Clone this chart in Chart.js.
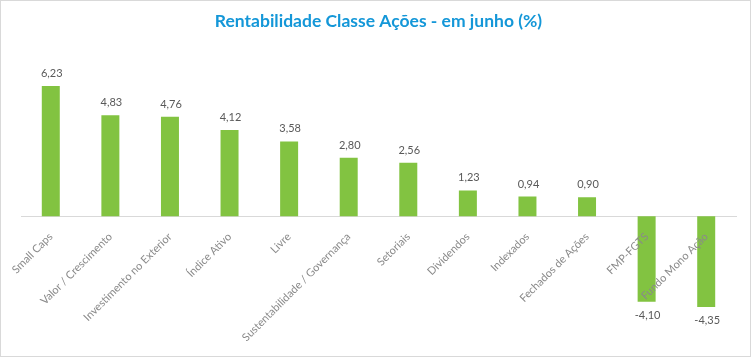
<!DOCTYPE html>
<html>
<head>
<meta charset="utf-8">
<script src="https://cdn.jsdelivr.net/npm/chart.js@4.4.1/dist/chart.umd.min.js"></script>
<style>
  html, body { margin: 0; padding: 0; background: #fff; }
  #wrap { width: 749px; height: 355px; border: 1px solid #d9d9d9; position: relative; }
  canvas { display: block; }
</style>
</head>
<body>
<div id="wrap"><canvas id="c" width="749" height="355"></canvas></div>
<script>
const titleText = 'Rentabilidade Classe Ações - em junho (%)';
const categories = ['Small Caps', 'Valor / Crescimento', 'Investimento no Exterior', 'Índice Ativo', 'Livre',
  'Sustentabilidade / Governança', 'Setoriais', 'Dividendos', 'Indexados', 'Fechados de Ações', 'FMP-FGTS', 'Fundo Mono Ação'];
const values = [6.23, 4.83, 4.76, 4.12, 3.58, 2.80, 2.56, 1.23, 0.94, 0.90, -4.10, -4.35];

const valueLabels = {
  id: 'valueLabels',
  afterDatasetsDraw(chart) {
    const ctx = chart.ctx;
    const meta = chart.getDatasetMeta(0);
    const data = chart.data.datasets[0].data;
    ctx.save();
    ctx.font = '11px Lato';
    ctx.fillStyle = '#595959';
    ctx.textAlign = 'center';
    ctx.textBaseline = 'alphabetic';
    meta.data.forEach((bar, i) => {
      const v = data[i];
      const txt = v.toFixed(2).replace('.', ',');
      if (v >= 0) ctx.fillText(txt, bar.x + 1, bar.y - 9);
      else ctx.fillText(txt, bar.x + 1, bar.y + 17);
    });
    ctx.restore();
  }
};

new Chart(document.getElementById('c'), {
  type: 'bar',
  data: {
    labels: categories,
    datasets: [{
      data: values,
      backgroundColor: '#82C341',
      borderWidth: 0,
      categoryPercentage: 1,
      barPercentage: 0.302
    }]
  },
  options: {
    responsive: false,
    animation: false,
    events: [],
    layout: { padding: { left: 20, right: 14, top: 0, bottom: 35.5 } },
    plugins: {
      legend: { display: false },
      tooltip: { enabled: false },
      title: {
        display: true,
        text: titleText,
        color: '#1497D8',
        font: { family: 'Lato', size: 17.5, weight: 'bold' },
        padding: { top: 10, bottom: 38 }
      }
    },
    scales: {
      x: {
        position: { y: 0 },
        offset: true,
        grid: { display: false },
        border: { display: true, color: '#d9d9d9', width: 1 },
        ticks: {
          z: 1,
          color: '#8a8a8a',
          font: { family: 'Lato', size: 11 },
          maxRotation: 45,
          minRotation: 45,
          autoSkip: false,
          padding: 6
        },
        afterFit: (s) => { s.height = 0; }
      },
      y: {
        display: false,
        min: -5,
        max: 7
      }
    }
  },
  plugins: [valueLabels]
});
</script>
</body>
</html>
